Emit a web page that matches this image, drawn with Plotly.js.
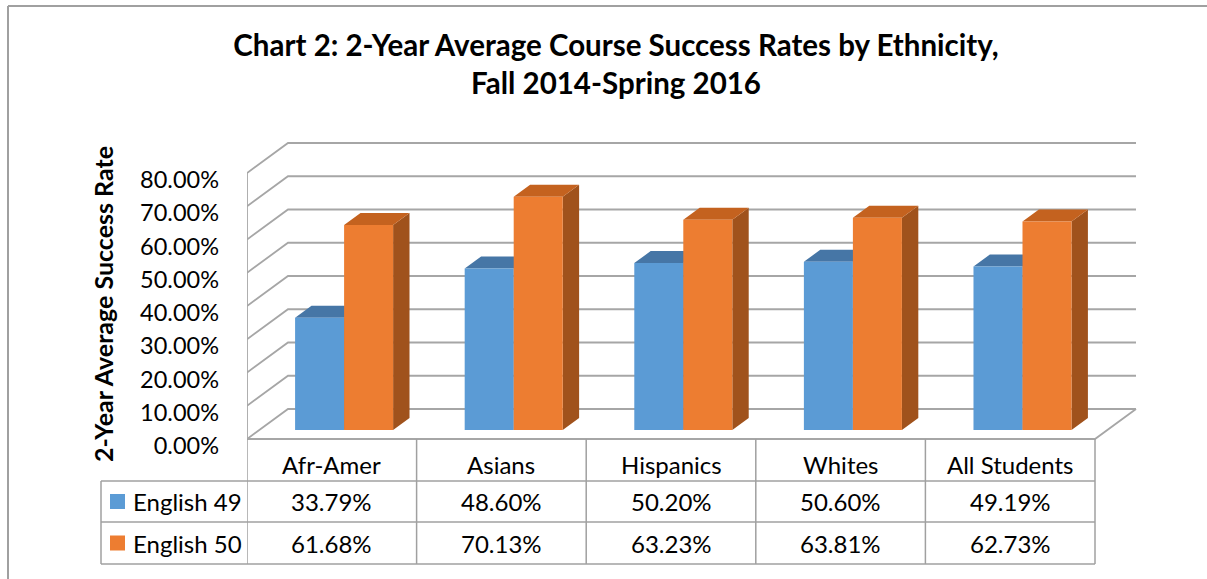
<!DOCTYPE html>
<html>
<head>
<meta charset="utf-8">
<script src="https://cdn.plot.ly/plotly-3.0.1.min.js"></script>
<style>html,body{margin:0;padding:0;background:#fff;}#chart{width:1207px;height:579px;}</style>
</head>
<body>
<div id="chart"></div>
<script>
// ---- data ----
const categories = ['Afr-Amer', 'Asians', 'Hispanics', 'Whites', 'All Students'];
const seriesNames = ['English 49', 'English 50'];
const english49 = [33.79, 48.60, 50.20, 50.60, 49.19];
const english50 = [61.68, 70.13, 63.23, 63.81, 62.73];
const yTickVals = [0, 10, 20, 30, 40, 50, 60, 70, 80];
const yTickText = yTickVals.map(v => v.toFixed(2) + '%');
const titleText = '<b>Chart 2: 2-Year Average Course Success Rates by Ethnicity,<br>Fall 2014-Spring 2016</b>';
const yTitleText = '<b>2-Year Average Success Rate</b>';

// ---- geometry ----
const W = 1207, H = 579;
const L = 247, R = 1140, T = 138, B = 445;
const FRONT0 = 439;           // pixel row of value 0 at front
const PXU = 169.6;            // px per category
const PYU = 3.325;            // px per percent
const DX = 41 / PXU, DY = 30 / PYU;   // depth of the floor
const F0 = 0.3, F1 = 0.7;            // bar front/back depth fractions
const GAP = 0.211, BW = 0.289;
const FONT = 'Lato, "Open Sans", sans-serif';
const colors = {
  front: ['#5B9BD5', '#ED7D31'],
  top: ['#4676A6', '#C4621F'],
  side: ['#3E6A96', '#A0521C']
};
const grid = '#A6A6A6';
function px(xp) { return (xp - L) / (R - L); }
function py(yp) { return (B - yp) / (B - T); }

const traces = [];
// gridlines on the walls
yTickVals.forEach(v => {
  traces.push({
    type: 'scatter', mode: 'lines', hoverinfo: 'skip', showlegend: false,
    x: [0, DX, categories.length + DX],
    y: [v, v + DY, v + DY],
    line: {color: grid, width: 1.8}
  });
});
// left front edge and floor front/right edges
traces.push({
  type: 'scatter', mode: 'lines', hoverinfo: 'skip', showlegend: false,
  x: [0, 0], y: [yTickVals[yTickVals.length - 1], 0],
  line: {color: grid, width: 1.8}
});
traces.push({
  type: 'scatter', mode: 'lines', hoverinfo: 'skip', showlegend: false,
  x: [0, categories.length, categories.length + DX], y: [0, 0, DY],
  line: {color: grid, width: 1.8}
});

// 3D bars
const series = [english49, english50];
const ddx = (F1 - F0) * DX, ddy = (F1 - F0) * DY;
series.forEach((vals, s) => {
  const side = {x: [], y: []}, top = {x: [], y: []}, front = {x: [], y: []};
  vals.forEach((v, i) => {
    const x0 = i + GAP + s * BW + F0 * DX, x1 = x0 + BW;
    const y0 = F0 * DY, y1 = v + F0 * DY;
    side.x.push(x1, x1 + ddx, x1 + ddx, x1, x1, null);
    side.y.push(y0, y0 + ddy, y1 + ddy, y1, y0, null);
    top.x.push(x0, x1, x1 + ddx, x0 + ddx, x0, null);
    top.y.push(y1, y1, y1 + ddy, y1 + ddy, y1, null);
    front.x.push(x0, x1, x1, x0, x0, null);
    front.y.push(y0, y0, y1, y1, y0, null);
  });
  [[side, colors.side[s]], [top, colors.top[s]], [front, colors.front[s]]].forEach(([p, c]) => {
    traces.push({
      type: 'scatter', mode: 'lines', fill: 'toself', fillcolor: c,
      x: p.x, y: p.y, line: {width: 0, color: c}, hoverinfo: 'skip',
      name: seriesNames[s], showlegend: false
    });
  });
});

// table
const shapes = [];
const annotations = [];
const lineStyle = {color: '#A0A0A0', width: 1.5};
const xEnd = L + categories.length * PXU;
[481, 522, 564].forEach(yy => {
  shapes.push({type: 'line', xref: 'paper', yref: 'paper', x0: px(101), x1: px(xEnd), y0: py(yy), y1: py(yy), line: lineStyle});
});
shapes.push({type: 'line', xref: 'paper', yref: 'paper', x0: px(101), x1: px(101), y0: py(481), y1: py(564), line: lineStyle});
for (let i = 0; i <= categories.length; i++) {
  shapes.push({type: 'line', xref: 'x', yref: 'paper', x0: i, x1: i, y0: py(FRONT0), y1: py(564), line: lineStyle});
}
const TFS = 24;
categories.forEach((c, i) => {
  annotations.push({xref: 'x', yref: 'paper', x: i + 0.5, y: py(464.5), text: c, showarrow: false,
    xanchor: 'center', yanchor: 'middle', font: {family: FONT, size: TFS, color: '#000'}});
});
const rowY = [501.5, 543];
series.forEach((vals, s) => {
  shapes.push({type: 'rect', xref: 'paper', yref: 'paper', x0: px(110), x1: px(125),
    y0: py(rowY[s] + 7.5), y1: py(rowY[s] - 7.5), fillcolor: colors.front[s], line: {width: 0}});
  annotations.push({xref: 'paper', yref: 'paper', x: px(131), y: py(rowY[s]), text: seriesNames[s], showarrow: false,
    xanchor: 'left', yanchor: 'middle', font: {family: FONT, size: TFS, color: '#000'}});
  vals.forEach((v, i) => {
    annotations.push({xref: 'x', yref: 'paper', x: i + 0.5, y: py(rowY[s]), text: v.toFixed(2) + '%', showarrow: false,
      xanchor: 'center', yanchor: 'middle', font: {family: FONT, size: TFS, color: '#000'}});
  });
});
// y title
annotations.push({xref: 'paper', yref: 'paper', x: px(103), y: py(304), text: yTitleText, textangle: -90,
  showarrow: false, xanchor: 'center', yanchor: 'middle', font: {family: FONT, size: 25, color: '#000'}});
// outer border (top & left)
shapes.push({type: 'line', xref: 'paper', yref: 'paper', x0: px(8), x1: px(W), y0: py(6), y1: py(6), line: {color: '#A0A0A0', width: 2}});
shapes.push({type: 'line', xref: 'paper', yref: 'paper', x0: px(8), x1: px(8), y0: py(6), y1: py(H), line: {color: '#A0A0A0', width: 2}});

const layout = {
  width: W, height: H,
  margin: {l: L, r: W - R, t: T, b: H - B, pad: 0},
  paper_bgcolor: '#fff', plot_bgcolor: 'rgba(0,0,0,0)',
  showlegend: false,
  title: {text: titleText, x: 616 / W, xref: 'container', xanchor: 'center', y: 1 - 56 / H, yref: 'container', yanchor: 'top',
    font: {family: FONT, size: 29.5, color: '#000'}},
  xaxis: {range: [0, (R - L) / PXU], showgrid: false, zeroline: false, showticklabels: false, showline: false, fixedrange: true},
  yaxis: {range: [-(B - FRONT0) / PYU, (FRONT0 - T) / PYU], showgrid: false, zeroline: false, showline: false,
    tickmode: 'array', tickvals: yTickVals, ticktext: yTickText, ticks: '',
    ticklabelstandoff: 27, ticklabelshift: 7,
    tickfont: {family: FONT, size: 23.5, color: '#000'}, fixedrange: true},
  shapes: shapes,
  annotations: annotations
};
Plotly.newPlot('chart', traces, layout, {displayModeBar: false, staticPlot: true});
</script>
</body>
</html>
